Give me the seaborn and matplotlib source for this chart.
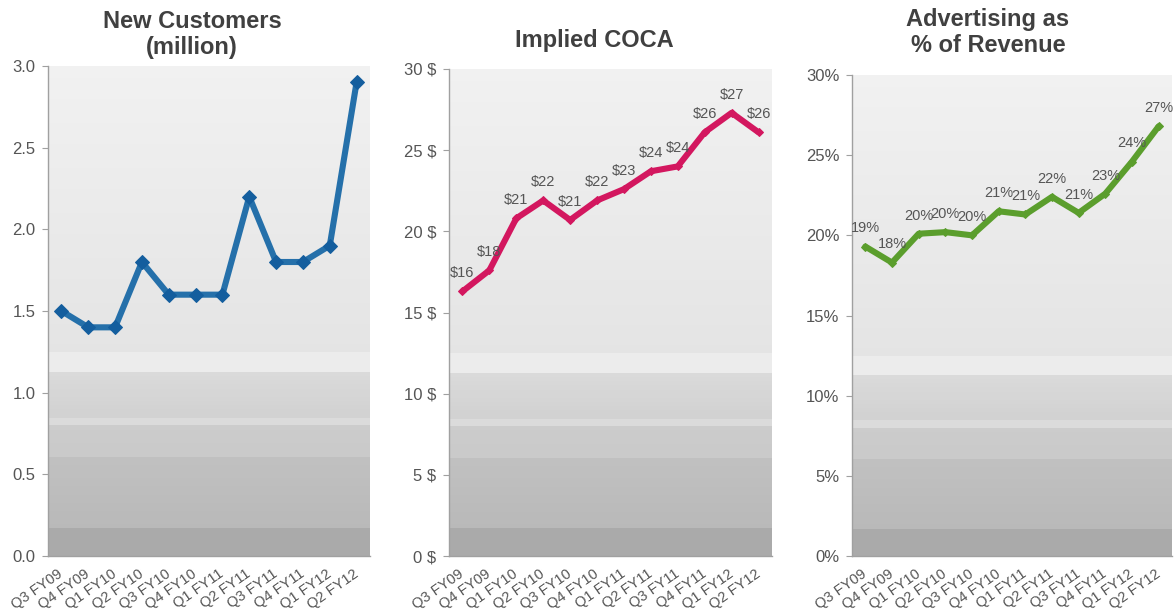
import numpy as np
import pandas as pd
import matplotlib
matplotlib.use("Agg")
import matplotlib.pyplot as plt
import matplotlib.transforms as mtransforms
from matplotlib.patches import Rectangle
import seaborn as sns

quarters = ["Q3 FY09", "Q4 FY09", "Q1 FY10", "Q2 FY10", "Q3 FY10", "Q4 FY10",
            "Q1 FY11", "Q2 FY11", "Q3 FY11", "Q4 FY11", "Q1 FY12", "Q2 FY12"]
new_customers = [1.5, 1.4, 1.4, 1.8, 1.6, 1.6, 1.6, 2.2, 1.8, 1.8, 1.9, 2.9]
coca = [16.3, 17.6, 20.8, 21.9, 20.7, 21.9, 22.6, 23.7, 24.0, 26.1, 27.3, 26.1]
coca_labels = ["$16", "$18", "$21", "$22", "$21", "$22", "$23", "$24", "$24", "$26", "$27", "$26"]
adv_pct = [19.3, 18.3, 20.1, 20.2, 20.0, 21.5, 21.3, 22.4, 21.4, 22.6, 24.6, 26.8]
adv_labels = ["19%", "18%", "20%", "20%", "20%", "21%", "21%", "22%", "21%", "23%", "24%", "27%"]

sns.set_style("white")
plt.rcParams["font.family"] = ["Liberation Sans", "DejaVu Sans"]

W, H = 1175, 613
fig = plt.figure(figsize=(W / 100, H / 100), dpi=100)

# background bands: (bottom fraction, top fraction, gray at bottom, gray at top)
bands = [
    (0.000, 0.057, 0.665, 0.665),
    (0.057, 0.202, 0.725, 0.755),
    (0.202, 0.267, 0.790, 0.800),
    (0.267, 0.282, 0.860, 0.860),
    (0.282, 0.376, 0.820, 0.855),
    (0.376, 0.416, 0.925, 0.925),
    (0.416, 1.000, 0.895, 0.945),
]

def draw_bg(ax):
    for b0, b1, g0, g1 in bands:
        n = max(1, int((b1 - b0) * 120))
        edges = np.linspace(b0, b1, n + 1)
        for k in range(n):
            t = (k + 0.5) / n
            g = g0 + (g1 - g0) * t
            ax.add_patch(Rectangle((0, edges[k]), 1, edges[k + 1] - edges[k] + 0.002,
                                   transform=ax.transAxes, facecolor=(g, g, g),
                                   edgecolor="none", zorder=0))

def px_axes(left, right, top, bottom):
    return fig.add_axes([left / W, (H - bottom) / H, (right - left) / W, (bottom - top) / H])

panels = [
    dict(rect=(48, 370, 66, 556), vals=new_customers, color="#2570aa", mcolor="#145e9e",
         marker="D", ms=7, ylim=(0, 3.0), yticks=np.arange(0, 3.01, 0.5),
         fmt=lambda v: f"{v:.1f}", labels=None,
         title="New Customers\n(million)", tx=192, ty=59),
    dict(rect=(449, 772, 69, 556), vals=coca, color="#d3175f", mcolor="#d3175f",
         marker="D", ms=4, ylim=(0, 30), yticks=np.arange(0, 31, 5),
         fmt=lambda v: f"{v:.0f} $", labels=coca_labels,
         title="Implied COCA", tx=594, ty=52),
    dict(rect=(852, 1172, 75, 556), vals=adv_pct, color="#5b9e2d", mcolor="#5b9e2d",
         marker="D", ms=4, ylim=(0, 30), yticks=np.arange(0, 31, 5),
         fmt=lambda v: f"{v:.0f}%", labels=adv_labels,
         title="Advertising as\n% of Revenue", tx=988, ty=57),
]

shift = mtransforms.ScaledTranslation(9 / 100, 0, fig.dpi_scale_trans)

for p in panels:
    ax = px_axes(*p["rect"])
    draw_bg(ax)
    df = pd.DataFrame({"q": np.arange(len(quarters)), "v": p["vals"]})
    sns.lineplot(data=df, x="q", y="v", ax=ax, color=p["color"], linewidth=4.4,
                 marker=p["marker"], markersize=p["ms"], markerfacecolor=p["mcolor"],
                 markeredgecolor=p["mcolor"], zorder=3)
    ax.set_xlim(-0.5, len(quarters) - 0.5)
    ax.set_ylim(*p["ylim"])
    ax.set_xlabel("")
    ax.set_ylabel("")
    ax.set_yticks(p["yticks"])
    ax.set_yticklabels([p["fmt"](v) for v in p["yticks"]], fontsize=12, color="#555555")
    ax.set_xticks(np.arange(len(quarters)))
    ax.set_xticklabels(quarters, rotation=35, ha="right", va="center",
                       rotation_mode="anchor", fontsize=10.5, color="#555555")
    for lab in ax.get_xticklabels():
        lab.set_transform(lab.get_transform() + shift)
    ax.set_xticks(np.arange(len(quarters) + 1) - 0.5, minor=True)
    ax.tick_params(axis="x", which="major", length=0, pad=12)
    ax.tick_params(axis="x", which="minor", length=4, color="#a0a0a0", direction="out")
    ax.tick_params(axis="y", length=4, color="#a0a0a0", direction="out", pad=5, left=True)
    for s in ["top", "right"]:
        ax.spines[s].set_visible(False)
    for s in ["left", "bottom"]:
        ax.spines[s].set_color("#a0a0a0")
        ax.spines[s].set_linewidth(1.0)
    ax.grid(False)
    if p["labels"]:
        for i, (v, lab) in enumerate(zip(p["vals"], p["labels"])):
            ax.annotate(lab, (i, v), xytext=(0, 8), textcoords="offset points",
                        ha="center", va="bottom", fontsize=10.5, color="#555555", zorder=4)
    fig.text(p["tx"] / W, (H - p["ty"]) / H, p["title"], ha="center", va="bottom",
             fontsize=17, fontweight="bold", color="#404040", linespacing=1.15)

fig.savefig("out.png", dpi=100, facecolor="white")
